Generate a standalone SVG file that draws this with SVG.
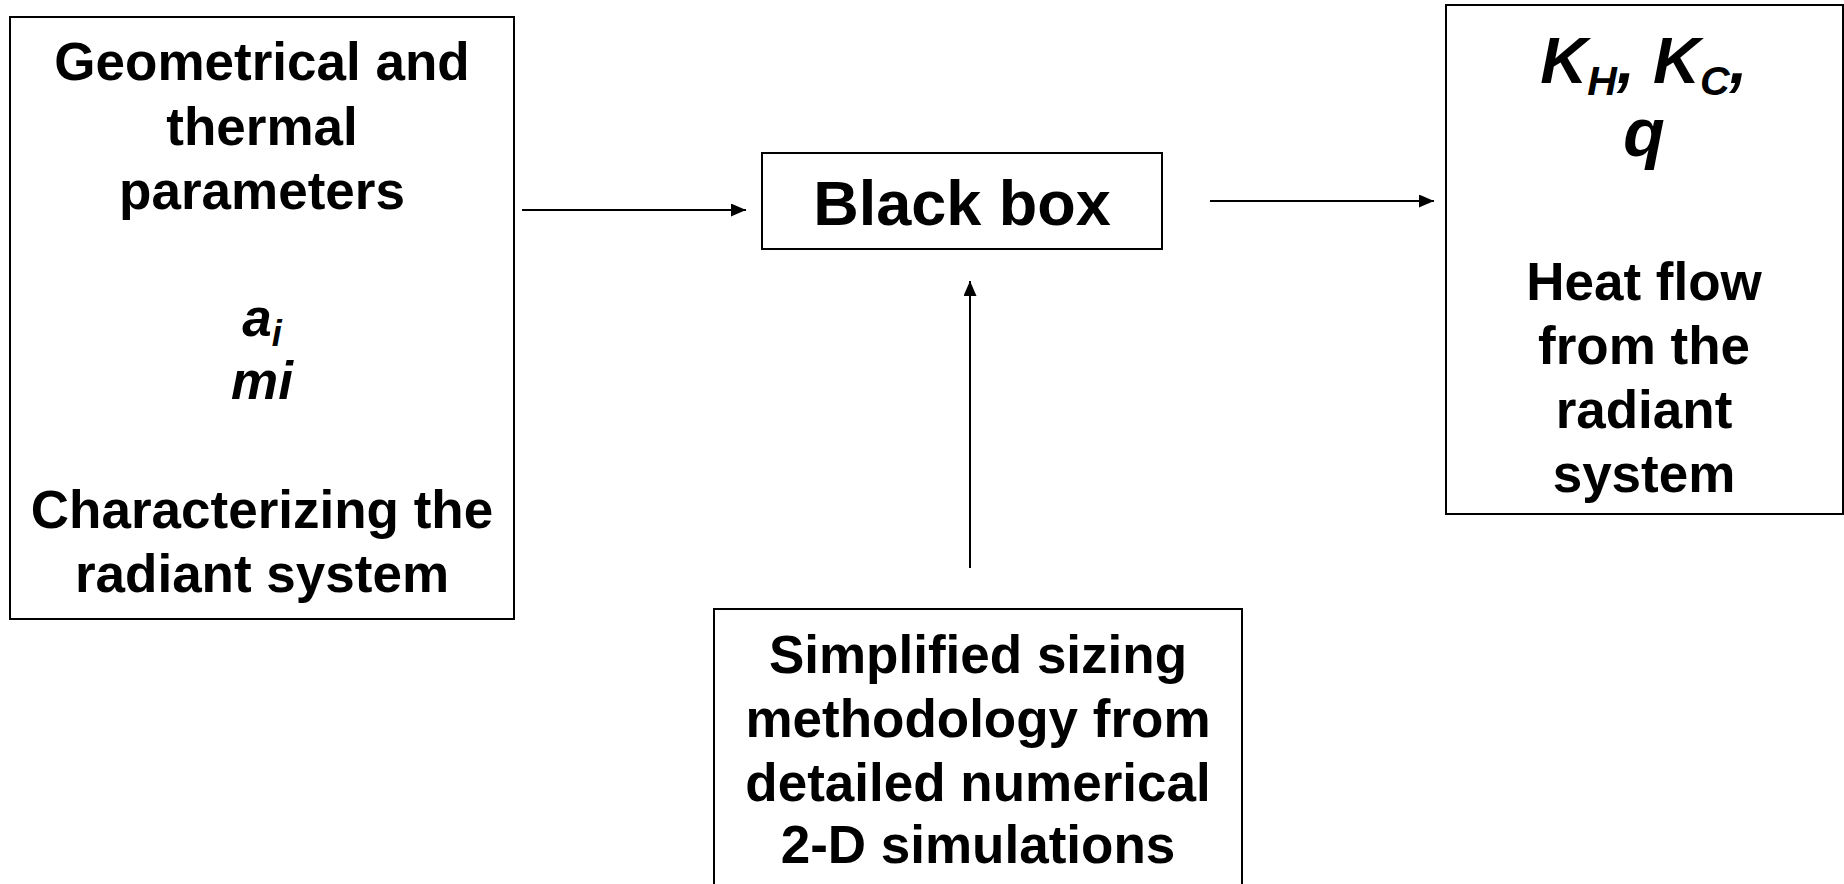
<svg xmlns="http://www.w3.org/2000/svg" width="1844" height="884" viewBox="0 0 1844 884">
<style>
.box{fill:#fff;stroke:#000;stroke-width:2}
.t{font-family:"Liberation Sans",Arial,sans-serif;font-weight:bold;fill:#000;text-anchor:middle}
.m{font-size:53px}
.i{font-style:italic}
.c{stroke:#000;stroke-width:2;fill:none}
</style>
<defs>
<marker id="ah" viewBox="0 0 15 13" refX="15" refY="6.5" markerWidth="15" markerHeight="13" markerUnits="userSpaceOnUse" orient="auto">
<path d="M0,0 L15,6.5 L0,13 Z" fill="#000"/>
</marker>
</defs>
<rect width="1844" height="884" fill="#fff"/>
<g id="connectors">
<line class="c" x1="522" y1="210" x2="746" y2="210" marker-end="url(#ah)"/>
<line class="c" x1="1210" y1="201" x2="1434" y2="201" marker-end="url(#ah)"/>
<line class="c" x1="970" y1="568" x2="970" y2="281" marker-end="url(#ah)"/>
</g>
<g id="inputs">
<rect class="box" x="10" y="17" width="504" height="602"/>
<text class="t m" x="262" y="80">Geometrical and</text>
<text class="t m" x="262" y="145">thermal</text>
<text class="t m" x="262" y="209">parameters</text>
<text class="t m i" x="262" y="336">a<tspan font-size="36" dy="10">i</tspan></text>
<text class="t m i" x="262" y="399">mi</text>
<text class="t m" x="262" y="528">Characterizing the</text>
<text class="t m" x="262" y="592">radiant system</text>
</g>
<g id="blackbox">
<rect class="box" x="762" y="153" width="400" height="96"/>
<text class="t" font-size="63" x="962" y="225">Black box</text>
</g>
<g id="outputs">
<rect class="box" x="1446" y="5" width="397" height="509"/>
<text class="t i" font-size="65" x="1644" y="83">K<tspan font-size="41" dy="12">H</tspan><tspan dy="-12">, K</tspan><tspan font-size="41" dy="12">C</tspan><tspan dy="-12">,</tspan></text>
<text class="t i" font-size="68" x="1644" y="156">q</text>
<text class="t m" x="1644" y="300">Heat flow</text>
<text class="t m" x="1644" y="364">from the</text>
<text class="t m" x="1644" y="428">radiant</text>
<text class="t m" x="1644" y="492">system</text>
</g>
<g id="methodology">
<rect class="box" x="714" y="609" width="528" height="300"/>
<text class="t m" x="978" y="673">Simplified sizing</text>
<text class="t m" x="978" y="737">methodology from</text>
<text class="t m" x="978" y="801">detailed numerical</text>
<text class="t m" x="978" y="863">2-D simulations</text>
</g>
</svg>
